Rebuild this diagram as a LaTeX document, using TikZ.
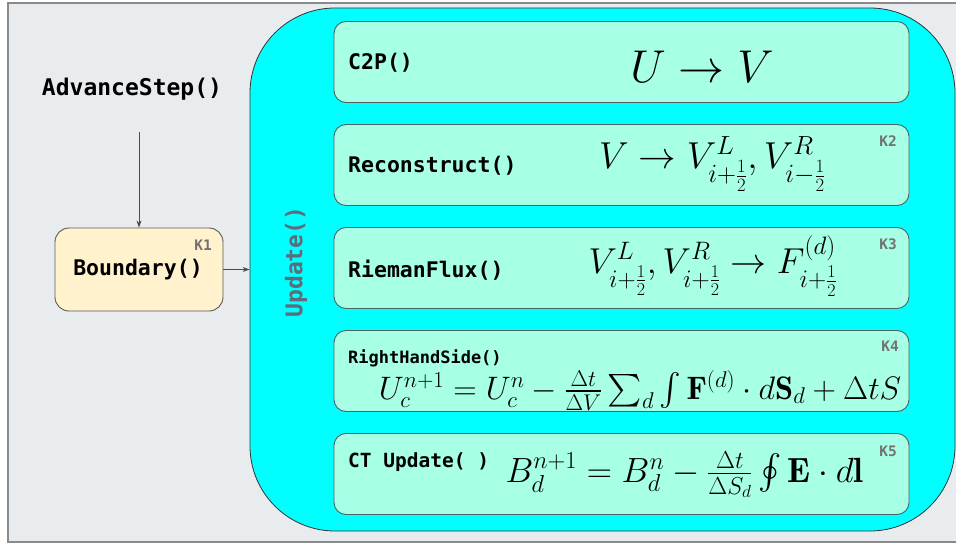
\RequirePackage{fix-cm}
\documentclass[tikz,border=0pt]{standalone}
\usepackage{amsmath,amssymb}
\usepackage{fontspec}
\newfontfamily\monob{DejaVu Sans Mono}
\usetikzlibrary{arrows.meta}
\definecolor{bggray}{HTML}{E9ECEE}
\definecolor{bordgray}{HTML}{8A8A8A}
\definecolor{cyanfill}{HTML}{00FFFF}
\definecolor{mint}{HTML}{A7FFE6}
\definecolor{mintline}{HTML}{4A6363}
\definecolor{cream}{HTML}{FFF2CC}
\definecolor{kgray}{HTML}{727272}
\definecolor{updgray}{HTML}{5E6B78}
\tikzset{
  stepbox/.style={draw=mintline, line width=0.9pt, fill=mint, rounded corners=12pt,
    minimum width=575pt, minimum height=81pt, inner sep=0pt},
  lbl/.style={font=\monob\bfseries\fontsize{21.5}{24}\selectfont, anchor=west, inner sep=0pt},
  klbl/.style={font=\monob\bfseries\fontsize{14.5}{16}\selectfont, text=kgray, inner sep=0pt},
  arr/.style={draw=black!70, line width=0.8pt, -{Stealth[length=7pt,width=5pt]}},
}
\begin{document}
\begin{tikzpicture}[x=1pt,y=-1pt]
\useasboundingbox (0,0) rectangle (956,543);
% outer background
\node[draw=bordgray, line width=2pt, fill=bggray, minimum width=960pt, minimum height=539pt,
  inner sep=0pt, anchor=north west] (outer) at (7,2) {};
% title
\node[font=\monob\bfseries\fontsize{23}{26}\selectfont, inner sep=0pt] (adv) at (132,89) {AdvanceStep()};
% boundary
\node[draw=black!65, line width=0.9pt, fill=cream, rounded corners=14pt, minimum width=168pt,
  minimum height=83pt, inner sep=0pt] (bnd) at (139,269.5) {};
\node[font=\monob\bfseries\fontsize{21.5}{24}\selectfont, inner sep=0pt] (bndt) at (138,270) {Boundary()};
\node[klbl] (k1) at (203,245) {K1};
% update container
\node[draw=black!80, line width=0.8pt, fill=cyanfill, rounded corners=85pt, minimum width=705pt,
  minimum height=523pt, inner sep=0pt] (upd) at (602.5,269.5) {};
\node[font=\monob\bfseries\fontsize{23}{26}\selectfont, text=updgray, rotate=90, inner sep=0pt] (updt) at (296,262) {Update()};
% connectors
\draw[arr] ([yshift=-32pt]adv.south -| bnd.north) -- (bnd.north);
\draw[arr] (bnd.east) -- (bnd.east -| upd.west);
% step boxes
\node[stepbox] (b1) at (621.5,62) {};
\node[stepbox] (b2) at (621.5,165) {};
\node[stepbox] (b3) at (621.5,268) {};
\node[stepbox] (b4) at (621.5,371) {};
\node[stepbox] (b5) at (621.5,474) {};
% labels
\node[lbl] (l1) at (348,63) {C2P()};
\node[lbl] (l2) at (348,166) {Reconstruct()};
\node[lbl] (l3) at (348,270) {RiemanFlux()};
\node[lbl, font=\monob\bfseries\fontsize{17}{20}\selectfont] (l4) at (348,358) {RightHandSide()};
\node[lbl, font=\monob\bfseries\fontsize{19.5}{22}\selectfont] (l5) at (348,462) {CT Update( )};
% K labels
\node[klbl] (k2) at (888,141.5) {K2};
\node[klbl] (k3) at (888,244.5) {K3};
\node[klbl] (k4) at (890,346) {K4};
\node[klbl] (k5) at (888,451) {K5};
% formulas
\node[anchor=base, inner sep=0pt, font=\fontsize{46}{50}\selectfont] (m1) at (702,82) {$U \to V$};
\node[anchor=base, inner sep=0pt, font=\fontsize{37.5}{40}\selectfont] (m2) at (712.5,168) {$V \to V^L_{i+\frac12}, V^R_{i-\frac12}$};
\node[anchor=base, inner sep=0pt, font=\fontsize{36}{40}\selectfont] (m3) at (713,273) {$V^L_{i+\frac12}, V^R_{i+\frac12} \to F^{(d)}_{i+\frac12}$};
\node[anchor=base, inner sep=0pt, font=\fontsize{32.5}{36}\selectfont] (m4) at (640,399) {$U_c^{n+1} = U_c^n - \frac{\Delta t}{\Delta V}\sum_d \int \mathbf{F}^{(d)}\cdot d\mathbf{S}_d + \Delta t S$};
\node[anchor=base, inner sep=0pt, font=\fontsize{35}{40}\selectfont] (m5) at (684.5,482) {$B_d^{n+1} = B_d^n - \frac{\Delta t}{\Delta S_d}\oint \mathbf{E}\cdot d\mathbf{l}$};
\end{tikzpicture}
\end{document}
